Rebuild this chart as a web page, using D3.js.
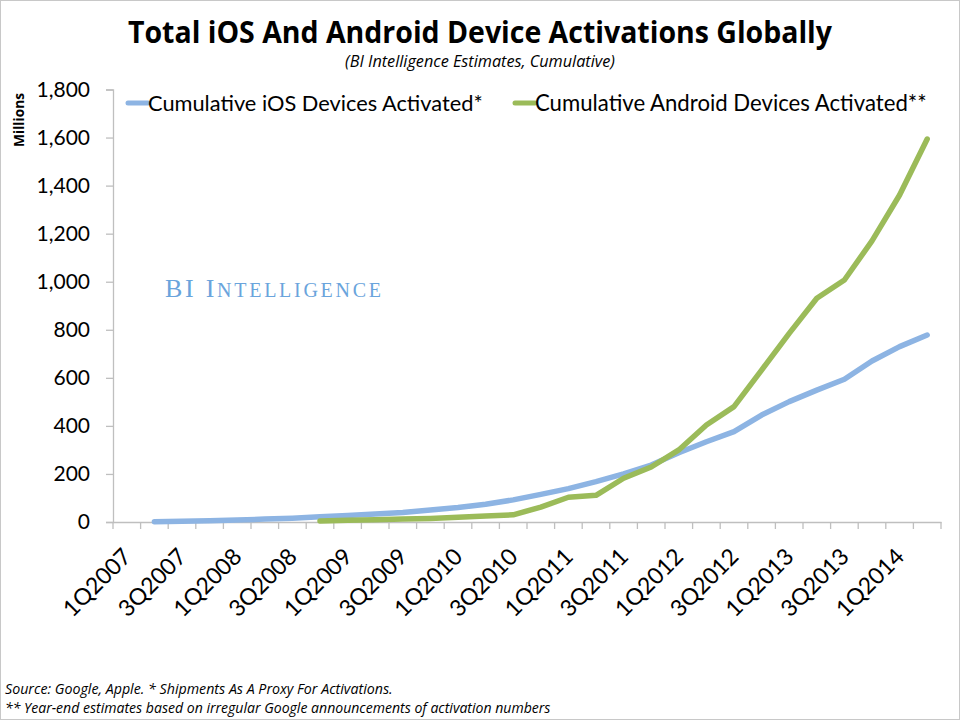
<!DOCTYPE html>
<html><head><meta charset="utf-8">
<script src="https://cdn.jsdelivr.net/npm/d3@7"></script>
<style>
body{margin:0;background:#fff}
text{font-family:'Open Sans',sans-serif}
</style>
</head><body>
<svg id="chart" width="960" height="720"></svg>
<script>
const quarters = ["1Q2007","2Q2007","3Q2007","4Q2007","1Q2008","2Q2008","3Q2008","4Q2008",
  "1Q2009","2Q2009","3Q2009","4Q2009","1Q2010","2Q2010","3Q2010","4Q2010",
  "1Q2011","2Q2011","3Q2011","4Q2011","1Q2012","2Q2012","3Q2012","4Q2012",
  "1Q2013","2Q2013","3Q2013","4Q2013","1Q2014","2Q2014"];
const iosValues = [null,1,3,5,8,12,16,22,27,33,40,50,60,74,92,115,139,168,200,237,288,334,376,445,501,549,594,670,730,778];
const androidValues = [null,null,null,null,null,null,null,4,7,9,12,15,20,25,30,62,103,111,182,229,300,404,480,632,785,931,1007,1170,1361,1594];
const yTicks = [0,200,400,600,800,1000,1200,1400,1600,1800];
const seriesNames = ["Cumulative iOS Devices Activated*","Cumulative Android Devices Activated**"];
const seriesColors = ["#8db4e3","#9bbb59"];
const titleText = "Total iOS And Android Device Activations Globally";
const subtitleText = "(BI Intelligence Estimates, Cumulative)";
const yAxisTitle = "Millions";
const sourceLines = ["Source: Google, Apple. * Shipments As A Proxy For Activations.",
  "** Year-end estimates based on irregular Google announcements of activation numbers"];

const svg = d3.select("#chart");
const axisColor = "#bfbfbf";

function fit(sel, w){
  const cur = parseFloat(sel.style("font-size"));
  const m = sel.node().getComputedTextLength();
  sel.style("font-size", (cur*w/m)+"px");
}

// outer frame
svg.append("rect").attr("x",0.5).attr("y",0.5).attr("width",959).attr("height",719)
  .attr("fill","#fff").attr("stroke","#c8c8c8");

const x = d3.scaleBand().domain(quarters).range([113,941]);
const y = d3.scaleLinear().domain([0,1800]).range([522,89.5]);

// title
svg.append("text").attr("x",480).attr("y",43).attr("text-anchor","middle")
  .style("font-weight","700").style("font-size","30px").text(titleText)
  .attr("textLength",704).attr("lengthAdjust","spacingAndGlyphs");
svg.append("text").attr("x",480).attr("y",67).attr("text-anchor","middle")
  .style("font-style","italic").style("font-size","13px").text(subtitleText)
  .call(s=>fit(s,270));

// y axis
const ya = svg.append("g").attr("transform","translate(113,0)")
  .call(d3.axisLeft(y).tickValues(yTicks).tickSize(7).tickPadding(16).tickFormat(d3.format(",")));
ya.select(".domain").attr("stroke",axisColor).attr("stroke-width",1.3);
ya.selectAll(".tick line").attr("stroke",axisColor).attr("stroke-width",1.3);
ya.selectAll(".tick text").style("font-size","21px").attr("fill","#000")
  .style("font-family","Lato, 'Open Sans', sans-serif");

svg.append("text").attr("transform","translate(24,120) rotate(-90)").attr("text-anchor","middle")
  .style("font-weight","700").style("font-size","12px").text(yAxisTitle)
  .call(s=>fit(s,54));

// x axis
const xa = svg.append("g").attr("transform","translate(0,522)")
  .call(d3.axisBottom(x).tickValues(quarters.filter((d,i)=>i%2===0)).tickSize(0).tickSizeOuter(0));
xa.select(".domain").attr("stroke",axisColor).attr("stroke-width",1.3);
xa.selectAll(".tick text")
  .attr("y",0).attr("dy",0).attr("x",0)
  .attr("text-anchor","end")
  .attr("transform","translate(6,36) rotate(-45)")
  .style("font-size","23px").attr("fill","#000")
  .style("font-family","Lato, 'Open Sans', sans-serif");
// boundary ticks
const bounds = quarters.map(q=>x(q)).concat([x.range()[1]]);
svg.append("g").selectAll("line").data(bounds).join("line")
  .attr("x1",d=>d).attr("x2",d=>d).attr("y1",522).attr("y2",529)
  .attr("stroke",axisColor).attr("stroke-width",1.3);

// watermark
const wm = svg.append("text").attr("x",165).attr("y",297)
  .style("font-family","'Liberation Serif', serif").attr("fill","#6aa4dc");
wm.append("tspan").style("font-size","26px").text("BI I");
wm.append("tspan").style("font-size","20px").text("NTELLIGENCE");
wm.attr("textLength",216).attr("lengthAdjust","spacing");

// lines
const cx = q => x(q) + x.bandwidth()/2;
[iosValues, androidValues].forEach((vals,k)=>{
  const lg = d3.line().defined(d=>d.v!=null).x(d=>cx(d.q)).y(d=>y(d.v));
  svg.append("path").datum(vals.map((v,i)=>({q:quarters[i],v})))
    .attr("d",lg).attr("fill","none").attr("stroke",seriesColors[k])
    .attr("stroke-width",5.5).attr("stroke-linejoin","round").attr("stroke-linecap","round");
});

// legend
const legendX = [128,515];
const legendW = [335,392];
seriesNames.forEach((n,k)=>{
  svg.append("line").attr("x1",legendX[k]).attr("x2",legendX[k]+20).attr("y1",103).attr("y2",103)
    .attr("stroke",seriesColors[k]).attr("stroke-width",5).attr("stroke-linecap","round");
  svg.append("text").attr("x",legendX[k]+20).attr("y",111).style("font-size","20px")
    .style("font-family","Lato, 'Open Sans', sans-serif").text(n).call(s=>fit(s,legendW[k]));
});

// sources
const srcW = [388,546];
sourceLines.forEach((s,i)=>{
  svg.append("text").attr("x",5).attr("y",694+i*19).style("font-style","italic")
    .style("font-size","13px").text(s).call(t=>fit(t,srcW[i]));
});
</script>
</body></html>
